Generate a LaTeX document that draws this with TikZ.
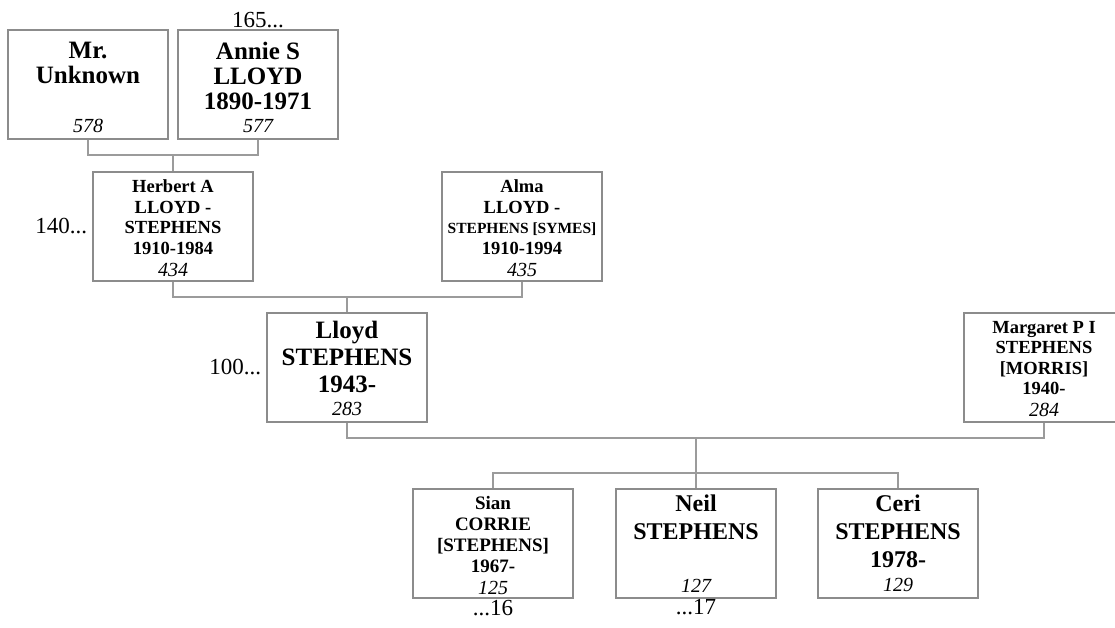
\documentclass[tikz,border=0pt]{standalone}
\usepackage{fontspec}
\setmainfont{Liberation Serif}
\usepackage{tikz}
\usetikzlibrary{positioning}

\definecolor{boxgray}{RGB}{140,140,140}
\definecolor{linkgray}{RGB}{155,155,155}

% one person card: [top pad]{name lines}{ref number}
\newcommand{\pcard}[3][8pt]{%
  \parbox[c][109pt][t]{160pt}{\centering\vspace*{#1}#2\par\vfill
    {\mdseries\itshape\fontsize{20}{22}\selectfont #3\par}\vspace{6pt}}}

\begin{document}
\begin{tikzpicture}[x=1pt, y=-1pt,
  pbox/.style={draw=boxgray, line width=1.2pt, inner sep=0pt, fill=white},
  big/.style={pbox, font=\fontsize{24}{26}\selectfont\bfseries},
  small/.style={pbox, font=\fontsize{18.5}{20.5}\selectfont\bfseries},
  link/.style={draw=linkgray, line width=1.3pt},
  more/.style={font=\fontsize{23}{25}\selectfont, inner sep=1pt},
]
  \useasboundingbox (0,0) rectangle (1115,628);

  % grandparents
  \node[big, font=\fontsize{25}{25}\selectfont\bfseries] (unknown) at (88,84.5) {\pcard[12pt]{Mr.\\Unknown}{578}};
  \node[big, font=\fontsize{25}{25}\selectfont\bfseries] (annie) at (258,84.5) {\pcard[12pt]{Annie S\\LLOYD\\1890-1971}{577}};

  % parents
  \node[small] (herbert) at (173,226.5) {\pcard[8pt]{Herbert A\\LLOYD -\\STEPHENS\\1910-1984}{434}};
  \node[small] (alma) at (522,226.5) {\pcard[8pt]{Alma\\LLOYD -\\{\fontsize{15.5}{20.5}\selectfont STEPHENS [SYMES]}\\1910-1994}{435}};

  % couple
  \node[big, font=\fontsize{25}{27}\selectfont\bfseries] (lloyd) at (347,367.5) {\pcard[8pt]{Lloyd\\STEPHENS\\1943-}{283}};
  \node[small] (margaret) at (1044,367.5) {\pcard[8pt]{Margaret P I\\STEPHENS\\{}[MORRIS]\\1940-}{284}};

  % children
  \node[small, font=\fontsize{19}{21}\selectfont\bfseries] (sian) at (493,543.5) {\pcard[7pt]{Sian\\CORRIE\\{}[STEPHENS]\\1967-}{125}};
  \node[big, font=\fontsize{24}{28}\selectfont\bfseries] (neil) at (696,543.5) {\pcard[6pt]{Neil\\STEPHENS}{127}};
  \node[big, font=\fontsize{24}{28}\selectfont\bfseries] (ceri) at (898,543.5) {\pcard[6pt]{Ceri\\STEPHENS\\1978-}{129}};

  % continuation marks
  \node[more, above=0pt of annie] (annieup) {165...};
  \node[more, left=4pt of herbert] (herbertup) {140...};
  \node[more, left=4pt of lloyd] (lloydup) {100...};
  \node[more, below=0pt of sian] (siandown) {...16};
  \node[more, below=0pt of neil] (neildown) {...17};

  % family junctions
  \coordinate (fam1) at (173,155);
  \coordinate (fam2) at (347,297);
  \coordinate (fam3) at (696,438);
  \coordinate (kids) at (696,473);

  \draw[link] (unknown.south) |- (fam1) -| (annie.south);
  \draw[link] (fam1) -- (herbert.north);
  \draw[link] (herbert.south) |- (fam2) -| (alma.south);
  \draw[link] (fam2) -- (lloyd.north);
  \draw[link] (lloyd.south) |- (fam3) -| (margaret.south);
  \draw[link] (fam3) -- (neil.north);
  \draw[link] (sian.north) |- (kids) -| (ceri.north);
\end{tikzpicture}
\end{document}
